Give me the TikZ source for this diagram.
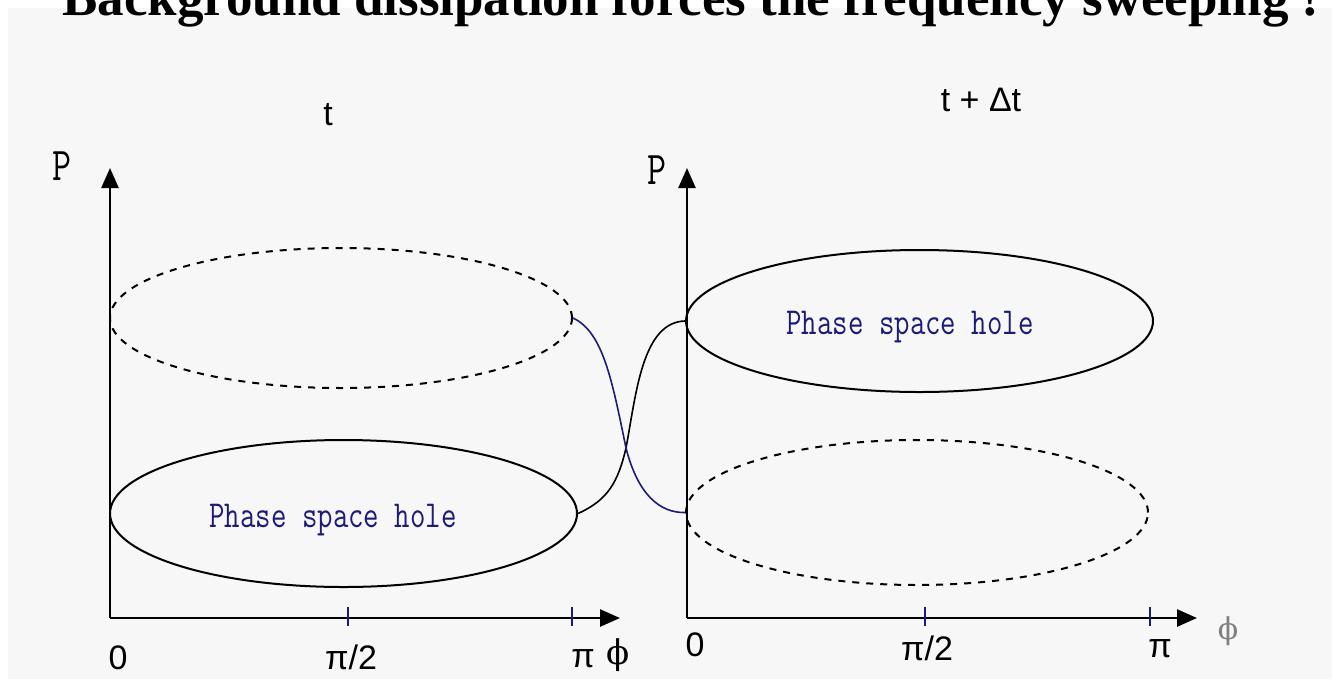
\documentclass[tikz,border=0pt]{standalone}
\usepackage{fontspec}
\setmainfont{Liberation Sans}
\newfontfamily\titlefont{Liberation Serif}
\newfontfamily\phifont{DejaVu Serif}
\usetikzlibrary{arrows.meta,shapes.geometric}
\definecolor{panel}{RGB}{247,247,247}
\definecolor{holeblue}{RGB}{28,28,120}
\newcommand{\stretched}[1]{\scalebox{1}[1.27]{#1}}

\begin{document}
\begin{tikzpicture}[x=1pt,y=-1pt,
  axis/.style={line width=2.5pt,-{Triangle[length=20pt,width=17pt]}},
  tick/.style={holeblue,line width=2pt},
  hole/.style={ellipse,draw,line width=2pt,inner sep=0pt},
  ghost/.style={hole,dash pattern=on 7pt off 7pt},
  lbl/.style={inner sep=0pt,font=\fontsize{34}{36}\selectfont},
  philbl/.style={inner sep=0pt,font=\phifont\fontsize{34}{38}\selectfont},
  holelabel/.style={inner sep=0pt,text=holeblue,font=\ttfamily\fontsize{30}{32}\selectfont},
  plabel/.style={inner sep=0pt,font=\ttfamily\fontsize{37}{40}\selectfont}
]
\useasboundingbox (0,0) rectangle (1332,681);
% Panel and title
\fill[panel] (8,8) rectangle (1332,679);
\node[anchor=base west,inner sep=0pt,font=\titlefont\bfseries\fontsize{53}{60}\selectfont]
  (title) at (62,15) {Background dissipation forces the frequency sweeping !};

% Left frame, time t
\coordinate (oL) at (110,618);
\coordinate (yL) at (110,168);
\coordinate (xL) at (620,618);
\draw[axis] (oL) -- (yL);
\draw[axis] (oL) -- (xL);
\draw[tick] (348,607) -- (348,626);
\draw[tick] (572,607) -- (572,626);
\node[plabel] (pL) at (62,166) {\stretched{P}};
\node[lbl] (tL) at (328,115) {t};
\node[lbl] (zeroL) at (118,658) {0};
\node[lbl] (halfL) at (351,657) {π/2};
\node[lbl] (piL) at (583,659) {π};
\node[philbl] (phiL) at (618,655) {ϕ};

% Holes at t
\node[ghost,minimum width=462pt,minimum height=140pt] (ghostL) at (341,318) {};
\node[hole,minimum width=467pt,minimum height=147pt] (holeL) at (343.5,513.5) {};
\node[holelabel] (labL) at (333,520) {\stretched{Phase space hole}};

% Right frame, time t + dt
\coordinate (oR) at (687,618);
\coordinate (yR) at (687,168);
\coordinate (xR) at (1197,618);
\draw[axis] (oR) -- (yR);
\draw[axis] (oR) -- (xR);
\draw[tick] (925,607) -- (925,626);
\draw[tick] (1150,607) -- (1150,626);
\node[plabel] (pR) at (657,170) {\stretched{P}};
\node[lbl] (tR) at (981,100) {t + Δt};
\node[lbl] (zeroR) at (695,645) {0};
\node[lbl] (halfR) at (927,648) {π/2};
\node[lbl] (piR) at (1160,649) {π};
\node[philbl,text=gray,font=\phifont\fontsize{30}{34}\selectfont] (phiR) at (1228,631) {ϕ};

% Holes at t + dt
\node[hole,minimum width=467pt,minimum height=142pt] (holeR) at (919.5,321) {};
\node[ghost,minimum width=462pt,minimum height=145pt] (ghostR) at (917,512.5) {};
\node[holelabel] (labR) at (910,327) {\stretched{Phase space hole}};

% Trajectories crossing between frames
\coordinate (cross) at (626,448);
\draw[line width=1.6pt] (holeL.east) .. controls (608,500) and (618,482) .. (cross)
  .. controls (636,395) and (642,322) .. (holeR.west);
\draw[holeblue,line width=1.6pt] (ghostL.east) .. controls (603,332) and (612,380) .. (cross)
  .. controls (638,495) and (660,513) .. (ghostR.west);
\end{tikzpicture}
\end{document}
